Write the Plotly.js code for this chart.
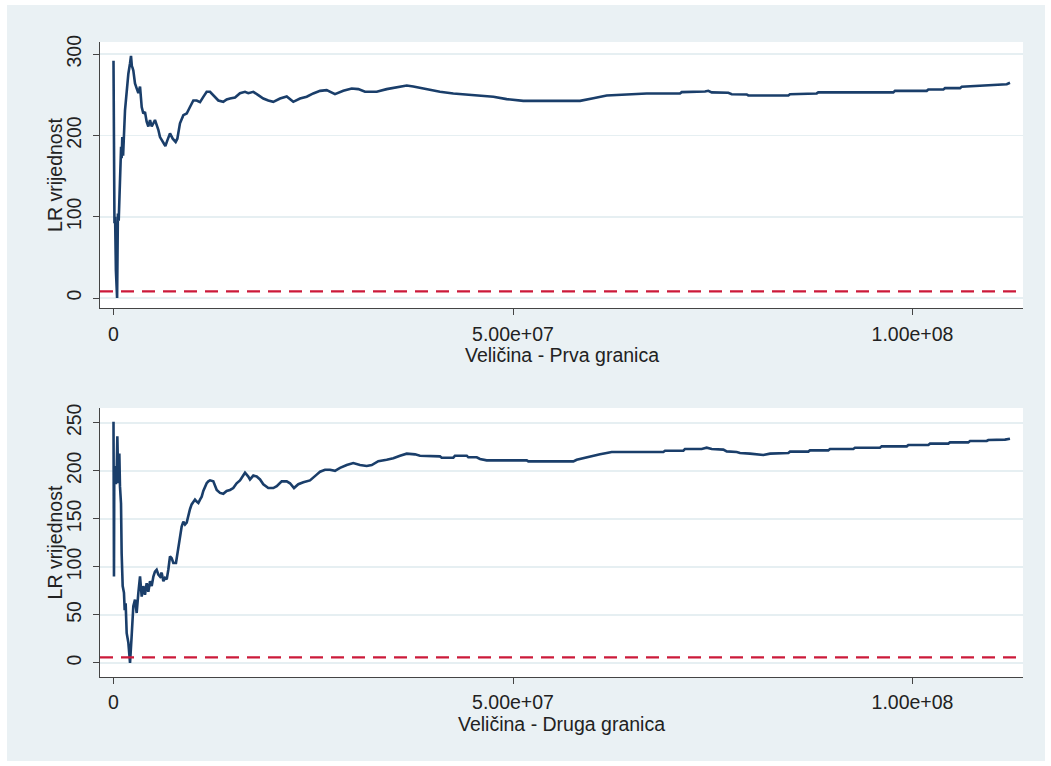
<!DOCTYPE html>
<html>
<head>
<meta charset="utf-8">
<script src="https://cdn.plot.ly/plotly-3.0.1.min.js"></script>
<style>
  html, body { margin: 0; padding: 0; background: #ffffff; width: 1051px; height: 766px; overflow: hidden; }
  #chart { position: absolute; left: 7px; top: 5px; width: 1038px; height: 756px; }
</style>
</head>
<body>
<div id="chart"></div>
<script>
// Threshold variable (Veličina), in units
const xTop = [0.0e6,0.03e6,0.05e6,0.08e6,0.12e6,0.2e6,0.3e6,0.45e6,0.55e6,0.65e6,0.73e6,0.85e6,0.95e6,1.02e6,1.1e6,1.2e6,1.3e6,1.44e6,1.55e6,1.65e6,1.86e6,2.07e6,2.19e6,2.3e6,2.36e6,2.48e6,2.69e6,2.9e6,3.11e6,3.32e6,3.53e6,3.73e6,3.94e6,4.15e6,4.36e6,4.57e6,4.78e6,4.99e6,5.19e6,5.4e6,5.61e6,5.82e6,6.03e6,6.24e6,6.49e6,6.74e6,7.07e6,7.41e6,7.78e6,7.99e6,8.32e6,8.74e6,9.16e6,9.57e6,9.99e6,10.41e6,10.83e6,11.24e6,11.66e6,12.08e6,12.49e6,13.12e6,13.74e6,14.16e6,14.58e6,15.21e6,15.83e6,16.46e6,16.87e6,17.5e6,18.12e6,18.75e6,19.37e6,20.0e6,20.84e6,21.68e6,22.5e6,23.34e6,24.18e6,25.0e6,25.85e6,26.68e6,27.72e6,28.76e6,29.81e6,30.64e6,31.48e6,32.94e6,34.19e6,35.44e6,36.7e6,37.52e6,39.2e6,40.86e6,42.53e6,44.2e6,45.87e6,47.54e6,49.21e6,51.29e6,54.22e6,58.39e6,60.05e6,61.73e6,64.23e6,66.73e6,70.9e6,71.11e6,74.03e6,74.44e6,74.87e6,76.95e6,77.37e6,79.25e6,79.45e6,84.46e6,84.67e6,88.01e6,88.21e6,97.6e6,97.81e6,101.78e6,101.98e6,103.86e6,104.07e6,105.95e6,106.16e6,108.04e6,110.12e6,111.79e6,112.2e6];
const lrTop = [292,225,243,225,92,100,34,0,104,95,130,153,186,172,198,175,205,231,243,256,276,289,298,285,284,280,264,258,252,260,235,227,229,217,211,219,211,215,219,213,207,198,194,190,187,194,202.5,196,192,196,215,225,227,235,243,243,241,247.5,253.7,253.7,249.6,243,241.4,244.3,245.5,246.7,252,253.7,252,253.7,249.6,245.5,243,241.4,245.5,248,241.4,245.5,247.6,251.7,254.9,255.7,250.8,254.9,257.8,257,253.7,253.7,257,259,261.5,260.3,256.6,253.7,251.7,250.4,249.2,247.6,244.7,242.6,242.6,242.6,245.9,249.2,250.4,251.7,251.7,253.3,254.1,254.9,253,252.5,250.8,250.4,249.2,249.2,250.8,251.7,253,253,254.9,254.9,256.6,256.6,258.2,258.2,259.9,260.7,262.3,263,264.8];

const xBot = [0.0e6,0.02e6,0.04e6,0.06e6,0.1e6,0.19e6,0.3e6,0.4e6,0.48e6,0.6e6,0.73e6,0.81e6,0.94e6,1.02e6,1.15e6,1.31e6,1.4e6,1.52e6,1.65e6,1.86e6,2.07e6,2.27e6,2.48e6,2.69e6,2.9e6,3.11e6,3.32e6,3.53e6,3.73e6,3.94e6,4.15e6,4.36e6,4.57e6,4.78e6,4.99e6,5.19e6,5.4e6,5.61e6,5.82e6,6.03e6,6.24e6,6.45e6,6.66e6,6.86e6,7.07e6,7.28e6,7.49e6,7.82e6,8.11e6,8.32e6,8.53e6,8.74e6,8.95e6,9.16e6,9.36e6,9.57e6,9.78e6,9.99e6,10.2e6,10.41e6,10.62e6,10.83e6,11.04e6,11.24e6,11.45e6,11.66e6,11.87e6,12.08e6,12.49e6,12.7e6,12.92e6,13.33e6,13.74e6,14.16e6,14.58e6,14.99e6,15.41e6,15.83e6,16.25e6,16.46e6,16.87e6,17.08e6,17.5e6,17.92e6,18.34e6,18.75e6,19.37e6,20.0e6,20.43e6,21.05e6,21.68e6,22.09e6,22.59e6,23.13e6,23.76e6,24.59e6,25.43e6,25.85e6,26.47e6,27.1e6,27.72e6,28.35e6,29.19e6,30.01e6,30.85e6,31.69e6,32.32e6,33.14e6,34.19e6,35.02e6,35.86e6,36.7e6,37.74e6,38.36e6,40.86e6,41.08e6,42.53e6,42.74e6,44.21e6,44.41e6,45.46e6,45.87e6,46.71e6,51.72e6,51.92e6,57.55e6,57.97e6,58.8e6,59.85e6,60.89e6,61.73e6,62.35e6,65.9e6,68.81e6,69.03e6,71.32e6,71.53e6,73.62e6,74.24e6,74.87e6,76.32e6,76.75e6,78.0e6,78.41e6,79.66e6,81.33e6,82.17e6,84.46e6,84.67e6,86.96e6,87.17e6,89.46e6,89.67e6,92.59e6,92.8e6,95.93e6,96.14e6,99.28e6,99.48e6,101.98e6,102.19e6,104.48e6,104.69e6,106.98e6,107.2e6,109.29e6,109.49e6,111.58e6,112.2e6];
const lrBot = [251,191,240,90,205,201,186,200,236,187,218,184,166,114,80,73,55,62,31,21,0,28,59,66,52,73,90,69,80,71,83,74,85,80,90,95,97,92,90,94,85,88.5,87,97,111,109,104,104,120,128,142,147,144,146,154,160,165,168,170,168,166.5,170,173,179,184,187,189,190,189,184,180,177,176,179,180,182,187,190,196,198,194,191,195,194,191,186,182,182,184,189,189,187,182,186,188,190,196,199,201,201,200,203,206,208,206,205,206,210,211.5,213,215.7,217.8,217.1,215.7,215,213.6,213.6,215.7,215.7,214,214,212.3,210.8,210.8,209.8,209.8,211.5,213.3,215,217.1,218.5,219.5,219.5,219.5,220.9,220.9,222.7,222.7,224,222.7,222,220.2,219.5,218.5,217.8,216.4,217.8,218.5,219.9,219.9,221.2,221.2,222.7,222.7,224,224,225.4,225.4,226.8,226.8,228.2,228.2,229.5,229.5,231,231,232,232.4,233.4];

// Critical values (dashed reference lines)
const critTop = 8.2;
const critBot = 5.8;

const xTickVals = [0, 5e7, 1e8];
const xTickText = ["0", "5.00e+07", "1.00e+08"];
const yTopTicks = [0, 100, 200, 300];
const yBotTicks = [0, 50, 100, 150, 200, 250];
const xTitleTop = "Veličina - Prva granica";
const xTitleBot = "Veličina - Druga granica";
const yTitle = "LR vrijednost";

const navy = "#1a3e6a";
const red = "#cc1a3a";
const xRange = [-1.69e6, 113.83e6];

const traces = [
  {x: xTop, y: lrTop, type: "scatter", mode: "lines", xaxis: "x", yaxis: "y",
   line: {color: navy, width: 2.6}, hoverinfo: "skip"},
  {x: xRange, y: [critTop, critTop], type: "scatter", mode: "lines", xaxis: "x", yaxis: "y",
   line: {color: red, width: 2.4, dash: "13px,8px"}, hoverinfo: "skip"},
  {x: xBot, y: lrBot, type: "scatter", mode: "lines", xaxis: "x2", yaxis: "y2",
   line: {color: navy, width: 2.6}, hoverinfo: "skip"},
  {x: xRange, y: [critBot, critBot], type: "scatter", mode: "lines", xaxis: "x2", yaxis: "y2",
   line: {color: red, width: 2.4, dash: "13px,8px"}, hoverinfo: "skip"}
];

const font = {family: "Liberation Sans, Arial, sans-serif", size: 19.5, color: "#222"};

function xAxis(anchor, standoff) {
  return {
    domain: [0, 1], anchor: anchor, range: xRange,
    tickmode: "array", tickvals: xTickVals, ticktext: xTickText,
    ticks: "outside", ticklen: 6, tickwidth: 1, tickcolor: "#444",
    ticklabelstandoff: standoff,
    showline: true, linecolor: "#444", linewidth: 1.2,
    showgrid: false, zeroline: false, automargin: false,
    tickfont: font
  };
}
function yAxis(dom, range, ticks, anchor) {
  return {
    domain: dom, anchor: anchor, range: range,
    tickmode: "array", tickvals: ticks, tickangle: -90,
    ticks: "outside", ticklen: 6, tickwidth: 1, tickcolor: "#444",
    ticklabelstandoff: 4,
    showline: true, linecolor: "#444", linewidth: 1.2,
    showgrid: true, gridcolor: "#e6eff2", gridwidth: 1.6,
    zeroline: false, automargin: false,
    tickfont: font
  };
}

const topDom = [0.5811, 1];
const botDom = [0, 0.4236];

function title(text, x, y, angle) {
  return {text: text, xref: "paper", yref: "paper", x: x, y: y,
          xanchor: "center", yanchor: "middle", textangle: angle,
          showarrow: false, borderpad: 0, font: font};
}

const layout = {
  width: 1038, height: 756,
  margin: {l: 93, r: 22, t: 37, b: 84},
  paper_bgcolor: "#eaf1f4",
  plot_bgcolor: "#ffffff",
  showlegend: false,
  font: font,
  xaxis: xAxis("y", 2),
  yaxis: yAxis(topDom, [-12.3, 315], yTopTicks, "x"),
  xaxis2: xAxis("y2", 1),
  yaxis2: yAxis(botDom, [-14.6, 265.3], yBotTicks, "x2"),
  annotations: [
    title(xTitleTop, 0.5, 0.5071, 0),
    title(xTitleBot, 0.5, -0.0735, 0),
    title(yTitle, -0.0488, (topDom[0] + topDom[1]) / 2, -90),
    title(yTitle, -0.0488, (botDom[0] + botDom[1]) / 2, -90)
  ]
};

Plotly.newPlot("chart", traces, layout, {staticPlot: true, displayModeBar: false});
</script>
</body>
</html>
